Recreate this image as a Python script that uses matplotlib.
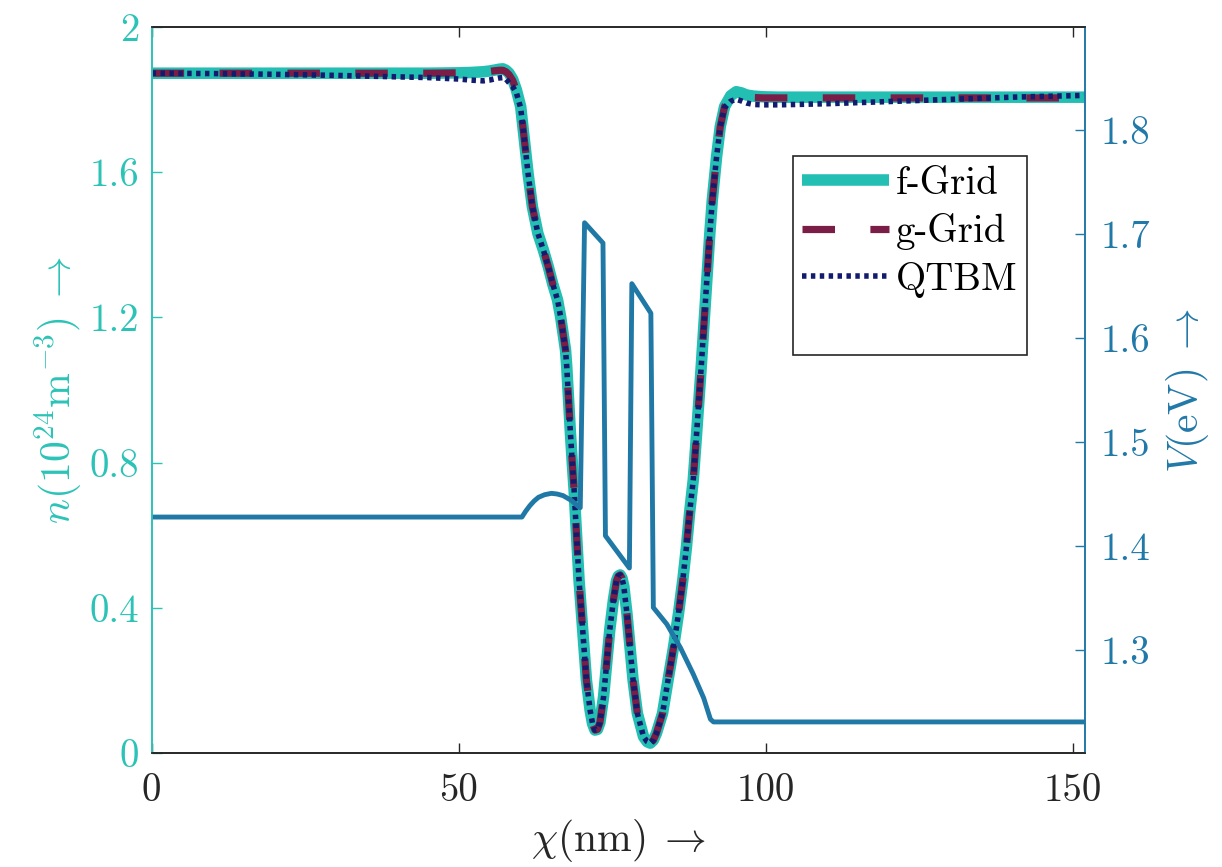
import matplotlib
matplotlib.use('Agg')
import matplotlib.pyplot as plt
from matplotlib.lines import Line2D

plt.rcParams['font.family'] = 'cmr10'
plt.rcParams['mathtext.fontset'] = 'cm'
plt.rcParams['axes.formatter.use_mathtext'] = True

# ---------------- data ----------------
x_n = [0, 10, 20, 30, 40, 45, 50, 52, 54, 55,
       56, 56.6, 57.2, 57.7, 58.2, 58.8, 59.4, 60.1, 60.7, 61.3,
       62.0, 62.9, 63.8, 64.6, 65.3, 66.1, 66.6, 67.0, 67.4, 67.6,
       67.9, 68.2, 68.5, 68.8, 69.0, 69.3, 69.6, 70.0, 70.4, 70.8,
       71.4, 71.8, 72.2, 72.6, 73.0, 73.6, 74.1, 74.6, 75.2, 75.7,
       76.0, 76.3, 76.6, 76.9, 77.4, 77.9, 78.4, 79.1, 80.1, 80.7,
       81.2, 81.7, 82.2, 83.2, 84.1, 85.0, 85.8, 86.5, 87.1, 87.6,
       88.2, 88.75, 89.5, 90.2, 90.9, 91.3, 92.0, 92.6, 93.3, 94.3,
       95.2, 96.0, 96.9, 98.0, 99.6, 102, 105, 110, 120, 130,
       140, 152]

n_f = [1.872, 1.872, 1.872, 1.872, 1.872, 1.872, 1.873, 1.874, 1.876, 1.878,
       1.881, 1.883, 1.884, 1.880, 1.872, 1.855, 1.826, 1.780, 1.688, 1.596,
       1.505, 1.431, 1.385, 1.339, 1.293, 1.248, 1.202, 1.156, 1.110, 1.064,
       0.972, 0.881, 0.800, 0.725, 0.661, 0.569, 0.477, 0.385, 0.293, 0.202,
       0.119, 0.082, 0.064, 0.066, 0.085, 0.156, 0.248, 0.339, 0.422, 0.475,
       0.488, 0.491, 0.482, 0.459, 0.385, 0.293, 0.202, 0.110, 0.046, 0.032,
       0.028, 0.036, 0.055, 0.110, 0.202, 0.293, 0.385, 0.477, 0.569, 0.661,
       0.752, 0.881, 1.064, 1.248, 1.431, 1.522, 1.642, 1.725, 1.780, 1.810,
       1.821, 1.818, 1.812, 1.809, 1.807, 1.806, 1.806, 1.806, 1.806, 1.806,
       1.806, 1.806]

n_g = [1.872, 1.872, 1.872, 1.872, 1.872, 1.872, 1.873, 1.874, 1.876, 1.877,
       1.879, 1.880, 1.880, 1.876, 1.868, 1.852, 1.824, 1.778, 1.688, 1.596,
       1.505, 1.431, 1.385, 1.339, 1.293, 1.248, 1.202, 1.156, 1.110, 1.064,
       0.972, 0.881, 0.800, 0.725, 0.661, 0.569, 0.477, 0.385, 0.293, 0.202,
       0.119, 0.082, 0.064, 0.066, 0.085, 0.156, 0.248, 0.339, 0.422, 0.475,
       0.488, 0.491, 0.482, 0.459, 0.385, 0.293, 0.202, 0.110, 0.046, 0.032,
       0.028, 0.036, 0.055, 0.110, 0.202, 0.293, 0.385, 0.477, 0.569, 0.661,
       0.752, 0.881, 1.064, 1.248, 1.431, 1.522, 1.642, 1.725, 1.780, 1.808,
       1.816, 1.812, 1.808, 1.805, 1.804, 1.804, 1.804, 1.804, 1.804, 1.804,
       1.804, 1.804]

n_q = [1.872, 1.871, 1.869, 1.866, 1.862, 1.860, 1.856, 1.853, 1.851, 1.853,
       1.857, 1.859, 1.860, 1.856, 1.846, 1.835, 1.818, 1.776, 1.688, 1.596,
       1.505, 1.431, 1.385, 1.339, 1.293, 1.248, 1.202, 1.156, 1.110, 1.064,
       0.972, 0.881, 0.800, 0.725, 0.661, 0.569, 0.477, 0.385, 0.293, 0.202,
       0.119, 0.082, 0.064, 0.066, 0.085, 0.156, 0.248, 0.339, 0.422, 0.475,
       0.488, 0.491, 0.482, 0.459, 0.385, 0.293, 0.202, 0.110, 0.046, 0.032,
       0.028, 0.036, 0.055, 0.110, 0.202, 0.293, 0.385, 0.477, 0.569, 0.661,
       0.752, 0.881, 1.064, 1.248, 1.431, 1.522, 1.642, 1.725, 1.778, 1.795,
       1.800, 1.796, 1.790, 1.786, 1.785, 1.785, 1.786, 1.788, 1.794, 1.800,
       1.806, 1.811]

x_v = [0, 60.3, 60.9, 61.6, 62.3, 63.0, 64.0, 65.1, 66.0, 67.0,
       68.4, 69.5, 69.8, 70.5, 73.5, 73.9, 77.8, 78.2, 81.3, 81.7,
       83.9, 86.1, 88.2, 89.9, 91.0, 91.5, 152]
v_v = [1.428, 1.428, 1.4335, 1.439, 1.4435, 1.447, 1.4495, 1.4508, 1.4502, 1.4486,
       1.4438, 1.438, 1.437, 1.711, 1.6915, 1.410, 1.379, 1.6524, 1.624, 1.341,
       1.325, 1.3025, 1.277, 1.254, 1.2336, 1.231, 1.231]

x_ticks = [0, 50, 100, 150]
x_ticklabels = ['0', '50', '100', '150']
n_ticks = [0, 0.4, 0.8, 1.2, 1.6, 2.0]
n_ticklabels = ['0', '0.4', '0.8', '1.2', '1.6', '2']
v_ticks = [1.3, 1.4, 1.5, 1.6, 1.7, 1.8]
v_ticklabels = ['1.3', '1.4', '1.5', '1.6', '1.7', '1.8']
series_labels = ['f-Grid', 'g-Grid', 'QTBM']

# ---------------- style ----------------
C_F = '#23BFB3'
C_LEFT = '#2CC3B7'
C_G = '#7A1E47'
C_Q = '#121B6E'
C_V = '#1F78A6'
C_RIGHT = '#2179A9'
C_AX = '#262626'

fig = plt.figure(figsize=(12.22, 8.67), dpi=100)
ax1 = fig.add_axes([0.1241, 0.1311, 0.7638, 0.8381])
ax2 = ax1.twinx()

h1, = ax1.plot(x_n, n_f, color=C_F, lw=8.3, solid_capstyle='butt',
               solid_joinstyle='round', label=series_labels[0])
h2, = ax1.plot(x_n, n_g, color=C_G, lw=5.2, ls=(0, (4.5, 4.9)), dash_capstyle='butt',
               label=series_labels[1])
h3, = ax1.plot(x_n, n_q, color=C_Q, lw=4.0, ls=(0, (0.8, 0.8)), dash_capstyle='butt',
               label=series_labels[2])
ax2.plot(x_v, v_v, color=C_V, lw=3.5, solid_joinstyle='round')

ax1.set_xlim(0, 152)
ax1.set_ylim(0, 2)
ax2.set_ylim(1.2008, 1.8995)

ax1.set_xticks(x_ticks)
ax1.set_xticklabels(x_ticklabels)
ax1.set_yticks(n_ticks)
ax1.set_yticklabels(n_ticklabels)
ax2.set_yticks(v_ticks)
ax2.set_yticklabels(v_ticklabels)

ax1.tick_params(axis='x', direction='in', top=True, length=7, width=1, colors=C_AX,
                labelsize=28, pad=14)
ax1.tick_params(axis='y', direction='in', length=7, width=1, colors=C_LEFT,
                labelsize=28, pad=9)
ax2.tick_params(axis='y', direction='in', length=7, width=1, colors=C_RIGHT,
                labelsize=28, pad=11)

for ax in (ax1, ax2):
    ax.spines['left'].set_color(C_LEFT)
    ax.spines['right'].set_color(C_RIGHT)
    ax.spines['top'].set_color(C_AX)
    ax.spines['bottom'].set_color(C_AX)
    for s in ax.spines.values():
        s.set_linewidth(1.2)

ax1.set_xlabel(r'$\chi(\mathrm{nm})\;\rightarrow$', fontsize=30, color=C_AX, labelpad=6)
ax1.set_ylabel(r'$n(10^{24}\mathrm{m}^{-3})\;\rightarrow$', fontsize=30, color=C_LEFT,
               labelpad=4)
ax2.set_ylabel(r'$V(\mathrm{eV})\;\rightarrow$', fontsize=30, color=C_RIGHT, labelpad=10)

blank = Line2D([], [], color='none')
leg = ax2.legend(handles=[h1, h2, h3, blank], labels=series_labels + [' '],
                 loc='upper left', bbox_to_anchor=(0.6868, 0.822), fontsize=28,
                 frameon=True, fancybox=False, edgecolor=C_AX, framealpha=1,
                 handlelength=2.23, handletextpad=0.17, borderpad=0.25,
                 labelspacing=0.3, borderaxespad=0)
leg.get_frame().set_linewidth(1.2)

fig.savefig('out.png', dpi=100)
